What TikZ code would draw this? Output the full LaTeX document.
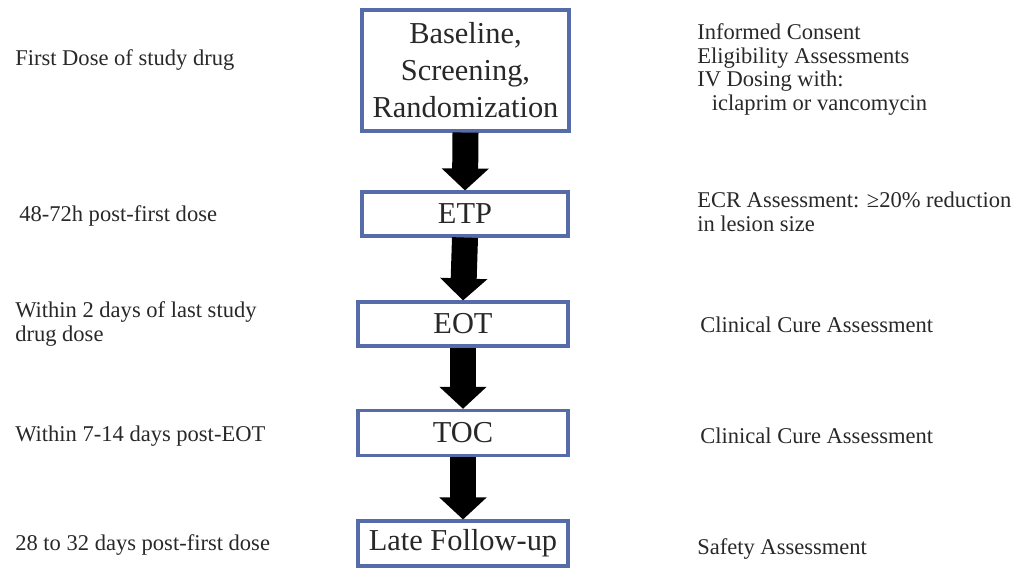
\documentclass[tikz,border=0pt]{standalone}
\usepackage{fontspec}
\setmainfont{Liberation Serif}
\usetikzlibrary{arrows.meta}
\definecolor{boxblue}{RGB}{86,108,168}
\definecolor{txt}{RGB}{40,40,40}
\begin{document}
\begin{tikzpicture}[x=0.75pt,y=-0.75pt,
  stage/.style={draw=boxblue, line width=2.3pt, fill=white, inner sep=0pt, align=center, text=txt,
    font=\fontsize{22.8pt}{27.75pt}\selectfont},
  side/.style={anchor=west, inner sep=0pt, align=left, text=txt,
    font=\fontsize{16.9pt}{17.6pt}\selectfont},
  flow/.style={line width=19.5pt, -{Triangle[width=34.5pt,length=16.5pt]}}]
\useasboundingbox (0,0) rectangle (1016,568);
% stages
\node[stage, minimum width=155.25pt, minimum height=90.75pt] (b1) at (465.5,70.5) {Baseline,\\Screening,\\Randomization};
\node[stage, minimum width=154.5pt, minimum height=33pt] (b2) at (465,214) {ETP};
\node[stage, minimum width=157.5pt, minimum height=33pt] (b3) at (463,324) {EOT};
\node[stage, minimum width=157.5pt, minimum height=34pt] (b4) at (463,433) {TOC};
\node[stage, minimum width=157.5pt, minimum height=33.75pt] (b5) at (463,543.5) {Late Follow-up};
% arrows
\draw[flow] (b1.south) -- (b2.north);
\draw[flow] (b2.south) -- (b3.north);
\draw[flow] (b3.south) -- (b4.north);
\draw[flow] (b4.south) -- (b5.north);
% left column
\node[side] (l1) at (15,60) {First Dose of study drug};
\node[side] (l2) at (19,216) {48-72h post-first dose};
\node[side] (l3) at (15,324) {Within 2 days of last study\\drug dose};
\node[side] (l4) at (15,436) {Within 7-14 days post-EOT};
\node[side] (l5) at (15,545) {28 to 32 days post-first dose};
% right column
\node[side] (r1) at (697,69.5) {Informed Consent\\Eligibility Assessments\\IV Dosing with:\\\hspace*{11pt}iclaprim or vancomycin};
\node[side] (r2) at (697,212) {ECR Assessment: ≥20\% reduction\\in lesion size};
\node[side] (r3) at (700,325) {Clinical Cure Assessment};
\node[side] (r4) at (700,436) {Clinical Cure Assessment};
\node[side] (r5) at (697,549) {Safety Assessment};
\end{tikzpicture}
\end{document}
